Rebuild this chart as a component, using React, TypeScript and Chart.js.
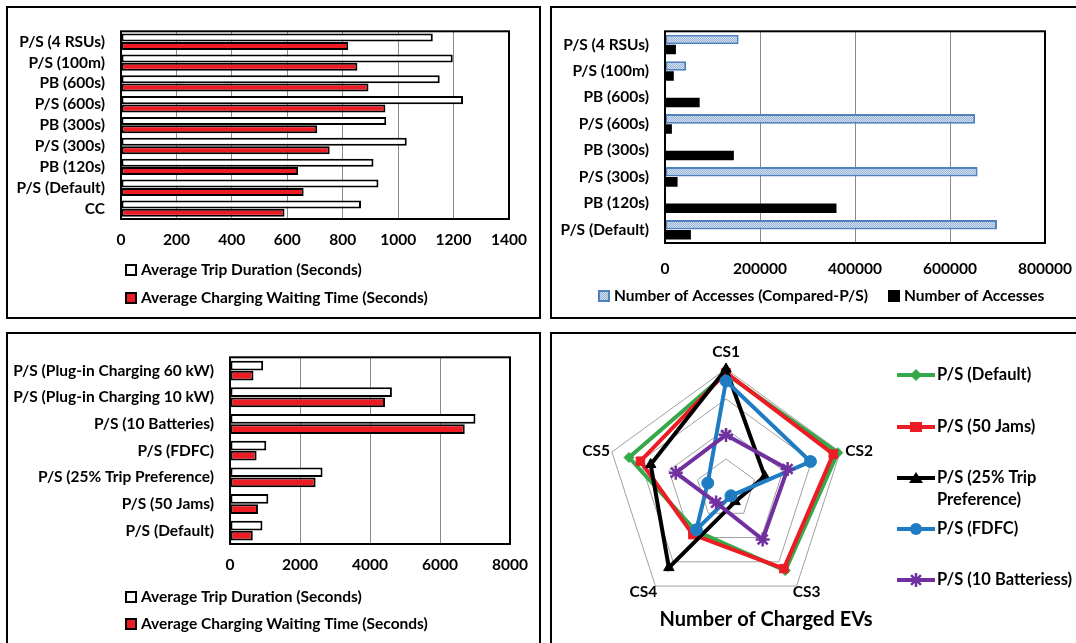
import React, { useEffect, useRef } from "react";
import { Chart, registerables } from "chart.js";

Chart.register(...registerables);

const FONT_FAMILY = "Lato, 'Open Sans', 'DejaVu Sans', sans-serif";
Chart.defaults.font.family = FONT_FAMILY;
Chart.defaults.font.size = 15.5;
Chart.defaults.font.weight = "bold";
Chart.defaults.color = "#000";

// ---------------- Data: top-left panel ----------------
const tlCategories = [
  "P/S (4 RSUs)",
  "P/S (100m)",
  "PB (600s)",
  "P/S (600s)",
  "PB (300s)",
  "P/S (300s)",
  "PB (120s)",
  "P/S (Default)",
  "CC",
];
const tlTripDuration = [1125, 1197, 1150, 1234, 957, 1031, 911, 929, 866];
const tlWaitingTime = [820, 853, 893, 954, 708, 753, 639, 659, 590];
const tlMax = 1400;
const tlStep = 200;

// ---------------- Data: top-right panel ----------------
const trCategories = [
  "P/S (4 RSUs)",
  "P/S (100m)",
  "PB (600s)",
  "P/S (600s)",
  "PB (300s)",
  "P/S (300s)",
  "PB (120s)",
  "P/S (Default)",
];
const trComparedAccesses = [155000, 44500, null, 653000, null, 658000, null, 699000];
const trAccesses = [23000, 18500, 73000, 14500, 145000, 26500, 361000, 54500];
const trMax = 800000;
const trStep = 200000;

// ---------------- Data: bottom-left panel ----------------
const blCategories = [
  "P/S (Plug-in Charging 60 kW)",
  "P/S (Plug-in Charging 10 kW)",
  "P/S (10 Batteries)",
  "P/S (FDFC)",
  "P/S (25% Trip Preference)",
  "P/S (50 Jams)",
  "P/S (Default)",
];
const blTripDuration = [947, 4626, 7013, 1036, 2644, 1095, 927];
const blWaitingTime = [671, 4429, 6707, 760, 2446, 799, 651];
const blMax = 8000;
const blStep = 2000;

// ---------------- Data: bottom-right radar ----------------
const radarAxes = ["CS1", "CS2", "CS3", "CS4", "CS5"];
const radarDefault = [192, 196, 168, 86, 170];
const radar50Jams = [194, 188, 164, 94, 150];
const radarTrip25 = [200, 68, 26, 162, 132];
const radarFDFC = [180, 148, 14, 84, 32];
const radar10Batteries = [90, 108, 104, 28, 88];
const radarMax = 200;
const radarStep = 50;
const radarTitle = "Number of Charged EVs";

const tripLabel = "Average Trip Duration (Seconds)";
const waitLabel = "Average Charging Waiting Time (Seconds)";

// ---------------- helpers ----------------
type Rect = { x: number; y: number; w: number; h: number };
type Plot = { l: number; t: number; r: number; b: number };

function makeDotPattern(): CanvasPattern | string {
  const c = document.createElement("canvas");
  c.width = 2;
  c.height = 2;
  const g = c.getContext("2d");
  if (!g) return "#b8cce4";
  g.fillStyle = "#d3dfee";
  g.fillRect(0, 0, 2, 2);
  g.fillStyle = "#9bb3d6";
  g.fillRect(0, 0, 1, 1);
  g.fillRect(1, 1, 1, 1);
  const p = g.createPattern(c, "repeat");
  return p || "#b8cce4";
}

const framePlugin = {
  id: "plotFrame",
  afterDatasetsDraw(chart: any) {
    const { ctx, chartArea: a } = chart;
    ctx.save();
    ctx.strokeStyle = "#000";
    ctx.lineWidth = 2;
    ctx.strokeRect(a.left, a.top, a.right - a.left, a.bottom - a.top);
    ctx.restore();
  },
};

type LegendItem = {
  kind: "box" | "line";
  x: number;
  y: number;
  text: string[];
  fill?: any;
  stroke?: string;
  marker?: string;
  color?: string;
};

function drawMarker(ctx: CanvasRenderingContext2D, m: string, cx: number, cy: number, color: string) {
  ctx.fillStyle = color;
  ctx.strokeStyle = color;
  ctx.beginPath();
  if (m === "diamond") {
    ctx.moveTo(cx, cy - 6);
    ctx.lineTo(cx + 6, cy);
    ctx.lineTo(cx, cy + 6);
    ctx.lineTo(cx - 6, cy);
    ctx.closePath();
    ctx.fill();
  } else if (m === "square") {
    ctx.rect(cx - 6, cy - 5, 12, 10);
    ctx.fill();
  } else if (m === "triangle") {
    ctx.moveTo(cx, cy - 6);
    ctx.lineTo(cx + 7, cy + 5);
    ctx.lineTo(cx - 7, cy + 5);
    ctx.closePath();
    ctx.fill();
  } else if (m === "circle") {
    ctx.arc(cx, cy, 6, 0, Math.PI * 2);
    ctx.fill();
  } else if (m === "star") {
    ctx.lineWidth = 2.5;
    const s = 7;
    ctx.moveTo(cx - s, cy);
    ctx.lineTo(cx + s, cy);
    ctx.moveTo(cx, cy - s);
    ctx.lineTo(cx, cy + s);
    const d = s * 0.707;
    ctx.moveTo(cx - d, cy - d);
    ctx.lineTo(cx + d, cy + d);
    ctx.moveTo(cx - d, cy + d);
    ctx.lineTo(cx + d, cy - d);
    ctx.stroke();
  }
}

function makeLegendPlugin(items: LegendItem[], size: number) {
  return {
    id: "customLegend",
    afterDraw(chart: any) {
      const ctx: CanvasRenderingContext2D = chart.ctx;
      ctx.save();
      for (const it of items) {
        let tx = it.x;
        if (it.kind === "box") {
          ctx.fillStyle = it.fill;
          ctx.fillRect(it.x, it.y - 6, 12, 12);
          ctx.lineWidth = 2;
          ctx.strokeStyle = it.stroke || "#000";
          ctx.strokeRect(it.x + 1, it.y - 5, 10, 10);
          tx = it.x + 16;
        } else {
          ctx.strokeStyle = it.color || "#000";
          ctx.lineWidth = 4;
          ctx.beginPath();
          ctx.moveTo(it.x, it.y);
          ctx.lineTo(it.x + 38, it.y);
          ctx.stroke();
          drawMarker(ctx, it.marker || "circle", it.x + 19, it.y, it.color || "#000");
          tx = it.x + 40;
        }
        ctx.fillStyle = "#000";
        ctx.font = `bold ${size}px ${FONT_FAMILY}`;
        ctx.textAlign = "left";
        ctx.textBaseline = "middle";
        it.text.forEach((t, i) => ctx.fillText(t, tx, it.y + i * 22));
      }
      ctx.restore();
    },
  };
}

function barConfig(p: {
  canvas: Rect;
  plot: Plot;
  labels: string[];
  datasets: any[];
  max: number;
  step: number;
  tickPad: number;
  legend: LegendItem[];
}) {
  const { canvas, plot } = p;
  const axisH = 44;
  const yW = plot.l - canvas.x;
  return {
    type: "bar",
    data: { labels: p.labels, datasets: p.datasets },
    options: {
      indexAxis: "y",
      responsive: false,
      animation: false,
      events: [],
      layout: {
        padding: {
          left: 0,
          top: plot.t - canvas.y,
          right: canvas.x + canvas.w - plot.r,
          bottom: canvas.y + canvas.h - plot.b - axisH,
        },
      },
      scales: {
        x: {
          type: "linear",
          min: 0,
          max: p.max,
          ticks: {
            stepSize: p.step,
            padding: p.tickPad,
            color: "#000",
            font: { size: 15.5, weight: "bold" },
            maxRotation: 0,
            autoSkip: false,
            callback: (v: any) => String(v),
          },
          grid: { color: "#8a8a8a", lineWidth: 1, drawTicks: false },
          border: { display: false },
          afterFit: (s: any) => {
            s.height = axisH;
          },
        },
        y: {
          type: "category",
          ticks: { padding: 16, color: "#000", autoSkip: false, font: { size: 15.5, weight: "bold" } },
          grid: { display: false, drawTicks: false },
          border: { display: false },
          afterFit: (s: any) => {
            s.width = yW;
          },
        },
      },
      plugins: {
        legend: { display: false },
        tooltip: { enabled: false },
      },
    },
    plugins: [framePlugin, makeLegendPlugin(p.legend, 15.5)],
  };
}

// ---------------- layout (page coordinates) ----------------
const PANEL_TL: Rect = { x: 6, y: 6, w: 535, h: 313 };
const PANEL_TR: Rect = { x: 550, y: 6, w: 540, h: 313 };
const PANEL_BL: Rect = { x: 6, y: 332, w: 535, h: 320 };
const PANEL_BR: Rect = { x: 550, y: 332, w: 540, h: 320 };

const CANVAS_TL: Rect = { x: 6, y: 6, w: 535, h: 313 };
const CANVAS_TR: Rect = { x: 550, y: 6, w: 540, h: 313 };
const CANVAS_BL: Rect = { x: 6, y: 332, w: 535, h: 311 };
const CANVAS_BR: Rect = { x: 550, y: 332, w: 526, h: 311 };

function rel(c: Rect, x: number, y: number) {
  return { x: x - c.x, y: y - c.y };
}

function makeTL() {
  const c = CANVAS_TL;
  return barConfig({
    canvas: c,
    plot: { l: 121, t: 19, r: 509, b: 219 },
    labels: tlCategories,
    max: tlMax,
    step: tlStep,
    tickPad: 12,
    datasets: [
      {
        label: tripLabel,
        data: tlTripDuration,
        backgroundColor: "#ffffff",
        borderColor: "#000",
        borderWidth: 2,
        borderSkipped: false,
        categoryPercentage: 0.8,
        barPercentage: 0.96,
      },
      {
        label: waitLabel,
        data: tlWaitingTime,
        backgroundColor: "#ed1c24",
        borderColor: "#000",
        borderWidth: 2,
        borderSkipped: false,
        categoryPercentage: 0.8,
        barPercentage: 0.96,
      },
    ],
    legend: [
      { kind: "box", ...rel(c, 125, 270), text: [tripLabel], fill: "#fff" },
      { kind: "box", ...rel(c, 125, 298), text: [waitLabel], fill: "#ed1c24" },
    ],
  });
}

function makeTR() {
  const c = CANVAS_TR;
  const pattern = makeDotPattern();
  return barConfig({
    canvas: c,
    plot: { l: 665, t: 19, r: 1045, b: 243 },
    labels: trCategories,
    max: trMax,
    step: trStep,
    tickPad: 17,
    datasets: [
      {
        label: "Number of Accesses (Compared-P/S)",
        data: trComparedAccesses,
        backgroundColor: pattern,
        borderColor: "#4f81bd",
        borderWidth: 2,
        borderSkipped: false,
        categoryPercentage: 0.76,
        barPercentage: 0.95,
      },
      {
        label: "Number of Accesses",
        data: trAccesses,
        backgroundColor: "#000",
        borderWidth: 0,
        categoryPercentage: 0.76,
        barPercentage: 0.95,
      },
    ],
    legend: [
      {
        kind: "box",
        ...rel(c, 598, 296),
        text: ["Number of Accesses (Compared-P/S)"],
        fill: pattern,
        stroke: "#4f81bd",
      },
      { kind: "box", ...rel(c, 888, 296), text: ["Number of Accesses"], fill: "#000" },
    ],
  });
}

function makeBL() {
  const c = CANVAS_BL;
  return barConfig({
    canvas: c,
    plot: { l: 230, t: 348, r: 510, b: 544 },
    labels: blCategories,
    max: blMax,
    step: blStep,
    tickPad: 12,
    datasets: [
      {
        label: tripLabel,
        data: blTripDuration,
        backgroundColor: "#ffffff",
        borderColor: "#000",
        borderWidth: 2,
        borderSkipped: false,
        categoryPercentage: 0.76,
        barPercentage: 0.96,
      },
      {
        label: waitLabel,
        data: blWaitingTime,
        backgroundColor: "#ed1c24",
        borderColor: "#000",
        borderWidth: 2,
        borderSkipped: false,
        categoryPercentage: 0.76,
        barPercentage: 0.96,
      },
    ],
    legend: [
      { kind: "box", ...rel(c, 125, 597), text: [tripLabel], fill: "#fff" },
      { kind: "box", ...rel(c, 125, 624), text: [waitLabel], fill: "#ed1c24" },
    ],
  });
}

const radarLabelOffsets = [
  { align: "center", dx: 0, dy: -17 },
  { align: "left", dx: 5, dy: -1 },
  { align: "center", dx: 10, dy: 6 },
  { align: "center", dx: -12, dy: 6 },
  { align: "right", dx: -2, dy: -1 },
];

function makeBR() {
  const c = CANVAS_BR;
  const center = rel(c, 726, 489);
  const R = 120;
  const titlePos = rel(c, 766, 620);
  const labelPlugin = {
    id: "radarLabels",
    afterDraw(chart: any) {
      const s = chart.scales.r;
      const ctx: CanvasRenderingContext2D = chart.ctx;
      ctx.save();
      ctx.fillStyle = "#000";
      ctx.textBaseline = "middle";
      ctx.font = `bold 15.5px ${FONT_FAMILY}`;
      radarAxes.forEach((lab, i) => {
        const pt = s.getPointPosition(i, s.drawingArea);
        const o = radarLabelOffsets[i];
        ctx.textAlign = o.align as CanvasTextAlign;
        ctx.fillText(lab, pt.x + o.dx, pt.y + o.dy);
      });
      ctx.font = `bold 20px ${FONT_FAMILY}`;
      ctx.textAlign = "center";
      ctx.fillText(radarTitle, titlePos.x, titlePos.y);
      ctx.restore();
    },
  };
  const ds = (label: string, data: number[], color: string, style: string, radius: number, order: number) => ({
    label,
    data,
    borderColor: color,
    backgroundColor: color,
    pointBackgroundColor: color,
    pointBorderColor: color,
    borderWidth: 4,
    pointStyle: style,
    pointRadius: radius,
    pointBorderWidth: style === "star" ? 2.5 : 1,
    fill: false,
    order,
  });
  return {
    type: "radar",
    data: {
      labels: radarAxes,
      datasets: [
        ds("P/S (Default)", radarDefault, "#35a84a", "rectRot", 5, 5),
        ds("P/S (50 Jams)", radar50Jams, "#ed1c24", "rect", 6, 4),
        ds("P/S (25% Trip Preference)", radarTrip25, "#000000", "triangle", 6, 3),
        ds("P/S (FDFC)", radarFDFC, "#1f7cc3", "circle", 6, 2),
        ds("P/S (10 Batteriess)", radar10Batteries, "#7030a0", "star", 7, 1),
      ],
    },
    options: {
      responsive: false,
      animation: false,
      events: [],
      layout: {
        padding: {
          left: center.x - R,
          top: center.y - R,
          right: c.w - (center.x + R),
          bottom: c.h - (center.y + R),
        },
      },
      scales: {
        r: {
          min: 0,
          max: radarMax,
          ticks: { stepSize: radarStep, display: false },
          grid: { color: "#a0a0a0", lineWidth: 1 },
          angleLines: { display: false },
          pointLabels: { display: false },
        },
      },
      plugins: { legend: { display: false }, tooltip: { enabled: false } },
    },
    plugins: [
      labelPlugin,
      makeLegendPlugin(
        [
          { kind: "line", ...rel(c, 897, 375), text: ["P/S (Default)"], color: "#35a84a", marker: "diamond" },
          { kind: "line", ...rel(c, 897, 427), text: ["P/S (50 Jams)"], color: "#ed1c24", marker: "square" },
          {
            kind: "line",
            ...rel(c, 897, 478),
            text: ["P/S (25% Trip", "Preference)"],
            color: "#000000",
            marker: "triangle",
          },
          { kind: "line", ...rel(c, 897, 529), text: ["P/S (FDFC)"], color: "#1f7cc3", marker: "circle" },
          { kind: "line", ...rel(c, 897, 580), text: ["P/S (10 Batteriess)"], color: "#7030a0", marker: "star" },
        ],
        16.5
      ),
    ],
  };
}

function ChartCanvas({ rect, make }: { rect: Rect; make: () => any }) {
  const ref = useRef<HTMLCanvasElement | null>(null);
  useEffect(() => {
    if (!ref.current) return;
    const chart = new Chart(ref.current, make());
    return () => chart.destroy();
  }, []);
  return (
    <canvas
      ref={ref}
      width={rect.w}
      height={rect.h}
      style={{ position: "absolute", left: rect.x, top: rect.y, width: rect.w, height: rect.h }}
    />
  );
}

function PanelBorder({ rect }: { rect: Rect }) {
  return (
    <div
      style={{
        position: "absolute",
        left: rect.x,
        top: rect.y,
        width: rect.w,
        height: rect.h,
        border: "2px solid #000",
        boxSizing: "border-box",
        background: "#fff",
      }}
    />
  );
}

export default function App() {
  useEffect(() => {
    document.body.style.margin = "0";
    document.body.style.background = "#fff";
  }, []);
  return (
    <div
      style={{
        position: "absolute",
        left: 0,
        top: 0,
        width: 1076,
        height: 643,
        overflow: "hidden",
        background: "#fff",
      }}
    >
      <PanelBorder rect={PANEL_TL} />
      <PanelBorder rect={PANEL_TR} />
      <PanelBorder rect={PANEL_BL} />
      <PanelBorder rect={PANEL_BR} />
      <ChartCanvas rect={CANVAS_TL} make={makeTL} />
      <ChartCanvas rect={CANVAS_TR} make={makeTR} />
      <ChartCanvas rect={CANVAS_BL} make={makeBL} />
      <ChartCanvas rect={CANVAS_BR} make={makeBR} />
    </div>
  );
}
